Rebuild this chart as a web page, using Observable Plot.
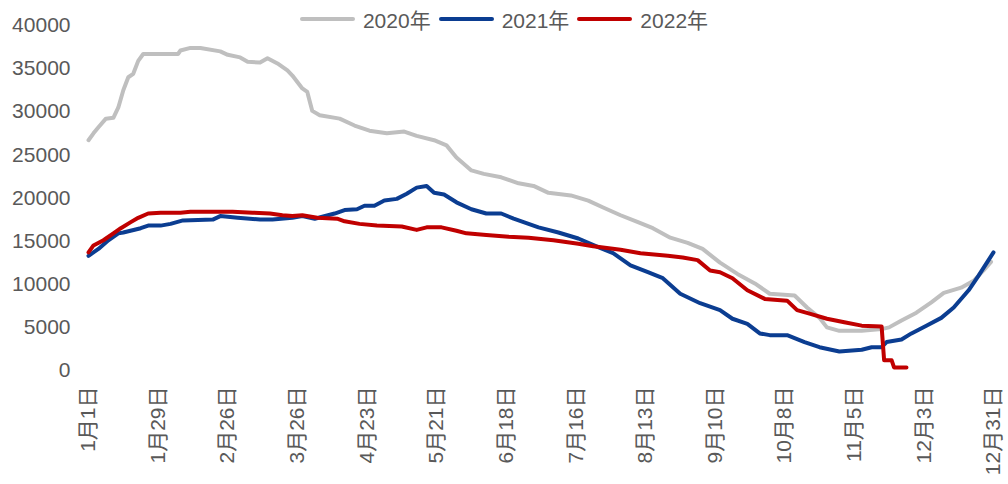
<!DOCTYPE html>
<html>
<head>
<meta charset="utf-8">
<script src="https://cdn.jsdelivr.net/npm/d3@7"></script>
<script src="https://cdn.jsdelivr.net/npm/@observablehq/plot@0.6"></script>
<style>
  html, body { margin: 0; padding: 0; background: #fff; }
  #wrap { position: relative; width: 1008px; height: 484px; }
  #legend { position: absolute; top: 4px; left: 0; width: 1008px; display: flex; justify-content: center; align-items: center;
    font-family: "Liberation Sans", Arial, "Noto Sans CJK SC", sans-serif; font-size: 21px; color: #595959; }
  .item { display: flex; align-items: center; margin: 0 4px; }
  .sw { width: 55px; height: 4px; margin-right: 8px; border-radius: 2px; }
</style>
</head>
<body>
<div id="wrap"><div id="legend"></div></div>
<script>
// ---- data (day index from 1月1日, value) ----
const seriesNames = ["2020年", "2021年", "2022年"];
const seriesColors = ["#bfbfbf", "#0b3d91", "#c00000"];

const days2020 = [0,2,4,7,10,12,14,16,18,20,22,36,37,41,45,53,56,61,64,69,72,76,80,82,86,88,90,93,101,107,113,120,127,132,139,144,148,154,159,166,173,179,185,194,201,207,214,221,227,234,241,247,254,261,268,274,284,289,294,297,302,311,319,322,327,333,339,344,351,356,360,363];
const vals2020 = [26700,27500,28200,29200,29300,30500,32500,34000,34400,35900,36700,36700,37100,37400,37400,37000,36600,36300,35800,35700,36200,35600,34800,34200,32700,32300,30100,29600,29200,28400,27800,27500,27700,27200,26700,26100,24700,23200,22800,22400,21700,21400,20600,20300,19700,18900,18000,17200,16500,15400,14800,14100,12500,11200,10100,8900,8700,7300,6100,5000,4600,4600,4800,5000,5800,6700,7900,9000,9600,10400,11600,12600];

const days2021 = [0,4,8,12,14,21,24,29,33,38,50,53,60,69,74,82,86,91,99,103,108,111,115,119,124,128,132,136,139,143,148,154,160,166,171,177,181,189,197,205,211,218,225,231,238,246,254,259,265,270,274,281,288,294,302,311,315,319,321,327,331,337,343,348,354,358,362,364];
const vals2021 = [13300,14100,15100,15900,16000,16500,16800,16800,17000,17400,17500,17900,17700,17500,17500,17700,17900,17600,18200,18600,18700,19100,19100,19700,19900,20500,21200,21400,20600,20400,19500,18700,18200,18200,17600,17000,16600,16000,15300,14300,13600,12200,11400,10700,8900,7800,7000,6000,5400,4300,4100,4100,3300,2700,2200,2400,2700,2700,3300,3600,4300,5200,6100,7300,9300,11000,12800,13700];

const days2022 = [0,2,6,10,13,17,20,24,29,37,41,58,66,73,78,82,86,92,100,103,109,116,126,132,136,142,148,152,160,169,177,187,197,203,214,222,233,239,245,250,254,259,265,272,281,285,290,297,304,311,319,320,323,324,329];
const vals2022 = [13700,14500,15100,15900,16500,17200,17700,18200,18300,18300,18400,18400,18300,18200,18000,17900,18000,17700,17600,17300,17000,16800,16700,16300,16600,16600,16200,15900,15700,15500,15400,15100,14700,14400,14000,13600,13300,13100,12800,11600,11400,10700,9300,8300,8100,7000,6600,6000,5600,5200,5100,1200,1200,350,350];

const xTickDays = [0,28,56,84,112,140,168,196,224,252,280,308,336,364];
const xTickLabels = ["1月1日","1月29日","2月26日","3月26日","4月23日","5月21日","6月18日","7月16日","8月13日","9月10日","10月8日","11月5日","12月3日","12月31日"];
const yTicks = [0,5000,10000,15000,20000,25000,30000,35000,40000];

// ---- build rows ----
const rows = [];
[[days2020, vals2020], [days2021, vals2021], [days2022, vals2022]].forEach(([ds, vs], k) => {
  ds.forEach((d, i) => rows.push({series: seriesNames[k], day: d, value: vs[i]}));
});
const labelOf = new Map(xTickDays.map((d, i) => [d, xTickLabels[i]]));

const chart = Plot.plot({
  width: 1008,
  height: 484,
  marginTop: 25,
  marginBottom: 114,
  marginLeft: 88,
  marginRight: 15,
  style: {fontFamily: '"Liberation Sans", Arial, "Noto Sans CJK SC", sans-serif', fontSize: "21px", color: "#595959", background: "transparent"},
  x: {domain: [0, 364]},
  y: {domain: [0, 40000]},
  color: {domain: seriesNames, range: seriesColors},
  marks: [
    Plot.axisY({ticks: yTicks, tickSize: 0, tickPadding: 18, tickFormat: d => String(d), label: null, fontSize: 21}),
    Plot.axisX({ticks: xTickDays, tickSize: 0, tickPadding: 16, tickRotate: -90, tickFormat: d => labelOf.get(d), label: null, fontSize: 21}),
    Plot.line(rows, {x: "day", y: "value", z: "series", stroke: "series", strokeWidth: 4, strokeLinejoin: "round"})
  ]
});
const wrap = document.getElementById("wrap");
wrap.insertBefore(chart, wrap.firstChild);

// ---- legend ----
const legend = document.getElementById("legend");
seriesNames.forEach((n, i) => {
  const it = document.createElement("div");
  it.className = "item";
  const sw = document.createElement("div");
  sw.className = "sw";
  sw.style.background = seriesColors[i];
  const tx = document.createElement("span");
  tx.textContent = n;
  it.appendChild(sw); it.appendChild(tx);
  legend.appendChild(it);
});
</script>
</body>
</html>
